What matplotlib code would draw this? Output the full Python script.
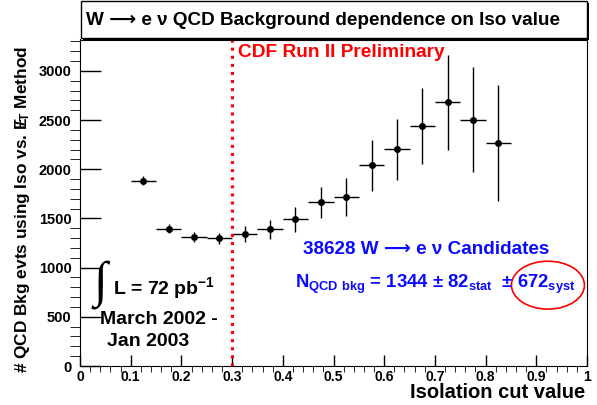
import matplotlib
matplotlib.use("Agg")
import matplotlib.pyplot as plt
from matplotlib.patches import Rectangle, Ellipse
from matplotlib.ticker import MultipleLocator

plt.rcParams['font.family'] = ['Liberation Sans', 'DejaVu Sans']
plt.rcParams['font.weight'] = 'bold'
plt.rcParams['mathtext.fontset'] = 'custom'
plt.rcParams['mathtext.rm'] = 'Liberation Sans:bold'
plt.rcParams['mathtext.it'] = 'Liberation Sans:bold'
plt.rcParams['mathtext.bf'] = 'Liberation Sans:bold'

# isolation bins (centres), width 0.05
iso_cut = [0.125, 0.175, 0.225, 0.275, 0.325, 0.375, 0.425, 0.475,
           0.525, 0.575, 0.625, 0.675, 0.725, 0.775, 0.825]
n_qcd = [1885, 1398, 1313, 1300, 1344, 1388, 1490, 1665,
         1719, 2041, 2203, 2437, 2683, 2504, 2271]
n_err = [45, 45, 50, 55, 82, 100, 124, 155, 193, 257, 310, 387, 482, 533, 590]
bin_half = 0.025
iso_chosen = 0.3

ARROW = '\u27f6'

fig = plt.figure(figsize=(5.97, 4.05), dpi=100)
ax = fig.add_axes([80/597, 1-366/405, 507/597, (366-39.5)/405])

ax.errorbar(iso_cut, n_qcd, yerr=n_err, xerr=bin_half, fmt='o', color='black',
            ms=4, lw=1, elinewidth=1, capsize=0)

ax.axvline(iso_chosen, color='red', ls=':', lw=2.2)

ax.set_xlim(0, 1)
ax.set_ylim(0, 3320)
ax.xaxis.set_major_locator(MultipleLocator(0.1))
ax.xaxis.set_minor_locator(MultipleLocator(0.02))
ax.yaxis.set_major_locator(MultipleLocator(500))
ax.yaxis.set_minor_locator(MultipleLocator(100))
ax.set_xticks([0, 0.1, 0.2, 0.3, 0.4, 0.5, 0.6, 0.7, 0.8, 0.9, 1.0])
ax.set_xticklabels(['0', '0.1', '0.2', '0.3', '0.4', '0.5', '0.6', '0.7', '0.8', '0.9', '1'])
ax.tick_params(direction='in', width=1)
ax.tick_params(axis='y', which='major', length=15, pad=6, labelsize=10.5)
ax.tick_params(axis='y', which='minor', length=7)
ax.tick_params(axis='x', which='major', length=8, pad=3, labelsize=10)
ax.tick_params(axis='x', which='minor', length=4)
for lab in ax.get_xticklabels() + ax.get_yticklabels():
    lab.set_fontweight('bold')

ax.set_ylabel(r'# QCD Bkg evts using Iso vs. $E\!\!\!/_{T}$ Method', fontsize=12.4, fontweight='bold')
ax.yaxis.set_label_coords(-0.095, 0.478)

fig.text(585/597, 1-398/405, 'Isolation cut value', ha='right', va='baseline',
         fontsize=14.5, fontweight='bold')

# title box
fig.patches.append(Rectangle((83/597, 1-40/405), 506/597, 37/405, transform=fig.transFigure,
                             facecolor='black', edgecolor='none', zorder=0))
fig.patches.append(Rectangle((81/597, 1-38/405), 506/597, 37/405, transform=fig.transFigure,
                             facecolor='white', edgecolor='black', lw=1, zorder=1))
fig.text(86/597, 1-20.5/405, 'W ' + ARROW + ' e \u03bd QCD Background dependence on Iso value',
         ha='left', va='center', fontsize=13.6, fontweight='bold', zorder=2)

ax.text(0.312, 3190, 'CDF Run II Preliminary', color='red', fontsize=13.8,
        fontweight='bold', va='center', ha='left')

ax.text(0.682, 1188, '38628 W ' + ARROW + ' e \u03bd Candidates', color='#0a0aff', fontsize=13.6,
        fontweight='bold', va='center', ha='center')
ax.text(0.424, 795, r'N$_{\mathrm{QCD\ bkg}}$ = 1344 $\pm$ 82$_{\mathrm{stat}}$  $\pm$ 672$_{\mathrm{syst}}$',
        color='#0a0aff', fontsize=13.3, fontweight='bold', va='baseline', ha='left')
ax.add_patch(Ellipse((0.923, 822), 0.144, 487, facecolor='none', edgecolor='red', lw=1.2))

ax.text(0.041, 822, '\u222b', family=['Liberation Serif', 'DejaVu Serif'], fontsize=36,
        va='center', ha='center')
ax.text(0.065, 731, r'L = 72 pb$^{-1}$', fontsize=14, fontweight='bold', va='baseline')
ax.text(0.039, 426, 'March 2002 -', fontsize=14, fontweight='bold', va='baseline')
ax.text(0.053, 206, 'Jan 2003', fontsize=14, fontweight='bold', va='baseline')

fig.savefig('out.png', dpi=100)
